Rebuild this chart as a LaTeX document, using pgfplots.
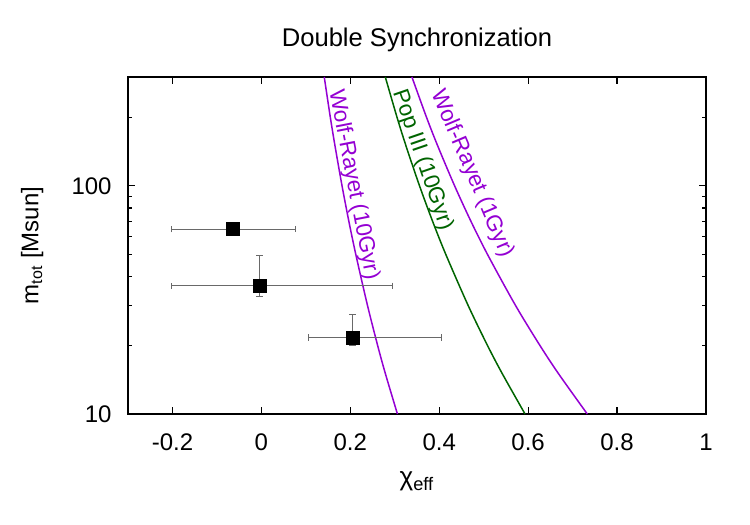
\documentclass[border=0pt]{standalone}
\usepackage{fontspec}
\setmainfont{Liberation Sans}
\usepackage{pgfplots}
\pgfplotsset{compat=1.18}
\definecolor{wrviolet}{RGB}{148,0,211}
\definecolor{popgreen}{RGB}{0,100,0}
\definecolor{errgray}{RGB}{105,105,105}

% measured binaries: chi_eff, m_tot and asymmetric errors
\pgfplotstableread{
x       y     xp      xm      yp     ym
-0.0645 64.6  0.1402  0.1385  0.0    0.0
-0.004  36.5  0.299   0.199   12.9   3.9
0.205   21.6  0.199   0.0994  5.8    1.7
}\events

\begin{document}
\begin{tikzpicture}
\useasboundingbox (-64pt,-55.5pt) rectangle (311pt,207pt);
\begin{axis}[
  scale only axis, width=289pt, height=168.5pt,
  xmin=-0.3, xmax=1, ymode=log, ymin=10, ymax=300,
  font=\fontsize{12}{14}\selectfont,
  /pgf/number format/assume math mode=true,
  xtick={-0.2,0,0.2,0.4,0.6,0.8,1},
  xticklabels={-0.2,0,0.2,0.4,0.6,0.8,1},
  ytick={10,100}, yticklabels={10,100},
  minor ytick={20,30,40,50,60,70,80,90,200,300},
  tick align=inside, major tick length=3.5pt, minor tick length=2pt,
  tick style={black, line width=0.6pt},
  axis line style={line width=1pt},
  xticklabel style={anchor=base, yshift=-18pt, inner sep=0pt},
  yticklabel style={anchor=east, xshift=-8pt, inner sep=0pt},
  title={Double Synchronization},
  title style={at={(axis description cs:0.5,1.056)}, anchor=base,
    font=\fontsize{12.8}{15}\selectfont},
  xlabel={χ\textsubscript{eff}},
  xlabel style={at={(axis description cs:0.5,-0.211)}, anchor=base,
    font=\fontsize{13}{15}\selectfont},
  ylabel={m\textsubscript{tot} [Msun]},
  ylabel style={at={(axis description cs:-0.155,0.5)}, anchor=base},
  clip=true,
]
% synchronization limits
\addplot[wrviolet, line width=0.75pt, smooth] coordinates {
  (0.306,10) (0.279,15) (0.2614,20) (0.2385,30) (0.2124,50) (0.1967,70)
  (0.1814,100) (0.1655,150) (0.1550,200) (0.1414,300)};
\addplot[popgreen, line width=0.75pt, smooth] coordinates {
  (0.593,10) (0.542,15) (0.5084,20) (0.4647,30) (0.4149,50) (0.385,70)
  (0.3557,100) (0.3251,150) (0.305,200) (0.2787,300)};
\addplot[wrviolet, line width=0.75pt, smooth] coordinates {
  (0.733,10) (0.6685,15) (0.6263,20) (0.5712,30) (0.5087,50) (0.4712,70)
  (0.4346,100) (0.3964,150) (0.3713,200) (0.3386,300)};

\node[wrviolet, rotate=-79, font=\fontsize{11.2}{13}\selectfont]
  at (axis cs:0.207,101) {Wolf-Rayet (10Gyr)};
\node[popgreen, rotate=-71, font=\fontsize{11.2}{13}\selectfont]
  at (axis cs:0.362,130) {Pop III (10Gyr)};
\node[wrviolet, rotate=-67, font=\fontsize{11.2}{13}\selectfont]
  at (axis cs:0.474,113) {Wolf-Rayet (1Gyr)};

% events with error bars
\addplot[only marks, mark=square*, mark size=3.2pt, black,
  error bars/.cd,
    x dir=both, x explicit, y dir=both, y explicit,
    error mark=-,
    error bar style={errgray, line width=0.45pt},
    error mark options={rotate=90, errgray, mark size=1.6pt, line width=0.45pt}]
  table[x=x, y=y, x error plus=xp, x error minus=xm,
        y error plus=yp, y error minus=ym] {\events};
\end{axis}
\end{tikzpicture}
\end{document}
